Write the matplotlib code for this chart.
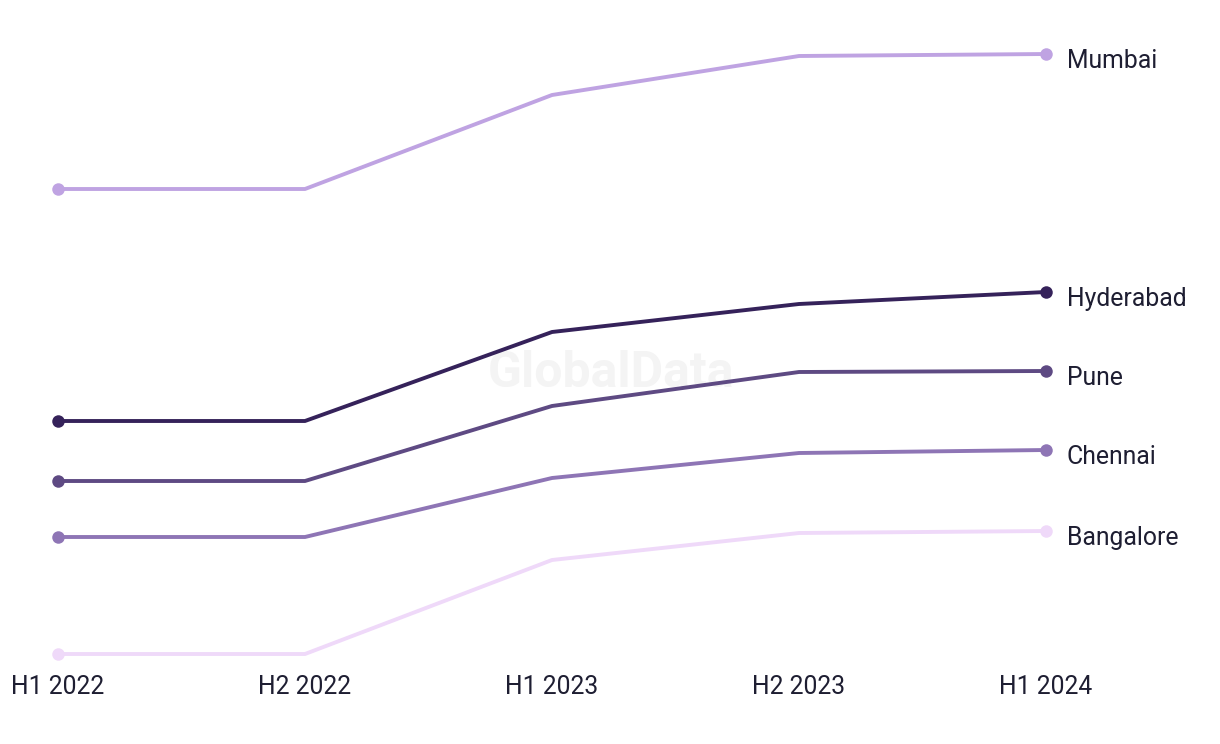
import matplotlib
matplotlib.use("Agg")
import matplotlib.pyplot as plt

periods = ["H1 2022", "H2 2022", "H1 2023", "H2 2023", "H1 2024"]
cities = ["Mumbai", "Hyderabad", "Pune", "Chennai", "Bangalore"]
mumbai = [102.2, 102.2, 121.0, 128.8, 129.2]
hyderabad = [55.8, 55.8, 73.6, 79.2, 81.6]
pune = [43.8, 43.8, 58.8, 65.6, 65.8]
chennai = [32.6, 32.6, 44.4, 49.4, 50.0]
bangalore = [9.2, 9.2, 28.0, 33.4, 33.8]
series = [mumbai, hyderabad, pune, chennai, bangalore]
colors = ["#BFA3E2", "#35225A", "#5E4A83", "#8E75B5", "#EFD9F9"]

plt.rcParams['font.family'] = ['Roboto', 'DejaVu Sans']
text_color = "#1E1E32"

fig = plt.figure(figsize=(12.2, 7.44), dpi=100)
ax = fig.add_axes([0, 0, 1, 1])
ax.set_xlim(-58 / 247, (1220 - 58) / 247)
ax.set_ylim(-8.8, 140)
ax.axis('off')

ax.text(2.24, 65.4, "GlobalData", color="#F4F4F4", fontsize=36, fontweight='bold',
        ha='center', va='center', zorder=0)

x = list(range(len(periods)))
for name, vals, c in zip(cities, series, colors):
    ax.plot(x, vals, color=c, lw=2.8, solid_capstyle='round', zorder=2)
    ax.plot([x[0], x[-1]], [vals[0], vals[-1]], 'o', color=c, ms=9, zorder=3,
            markeredgewidth=0)
    ax.annotate(name, (x[-1], vals[-1]), xytext=(15, -5), textcoords='offset points',
                ha='left', va='center', fontsize=17.8, color=text_color)

ymin = min(min(s) for s in series)
for i, p in enumerate(periods):
    ax.annotate(p, (i, ymin), xytext=(0, -23.5), textcoords='offset points',
                ha='center', va='center', fontsize=17.8, color=text_color)

fig.savefig("out.png", dpi=100, facecolor='white')
